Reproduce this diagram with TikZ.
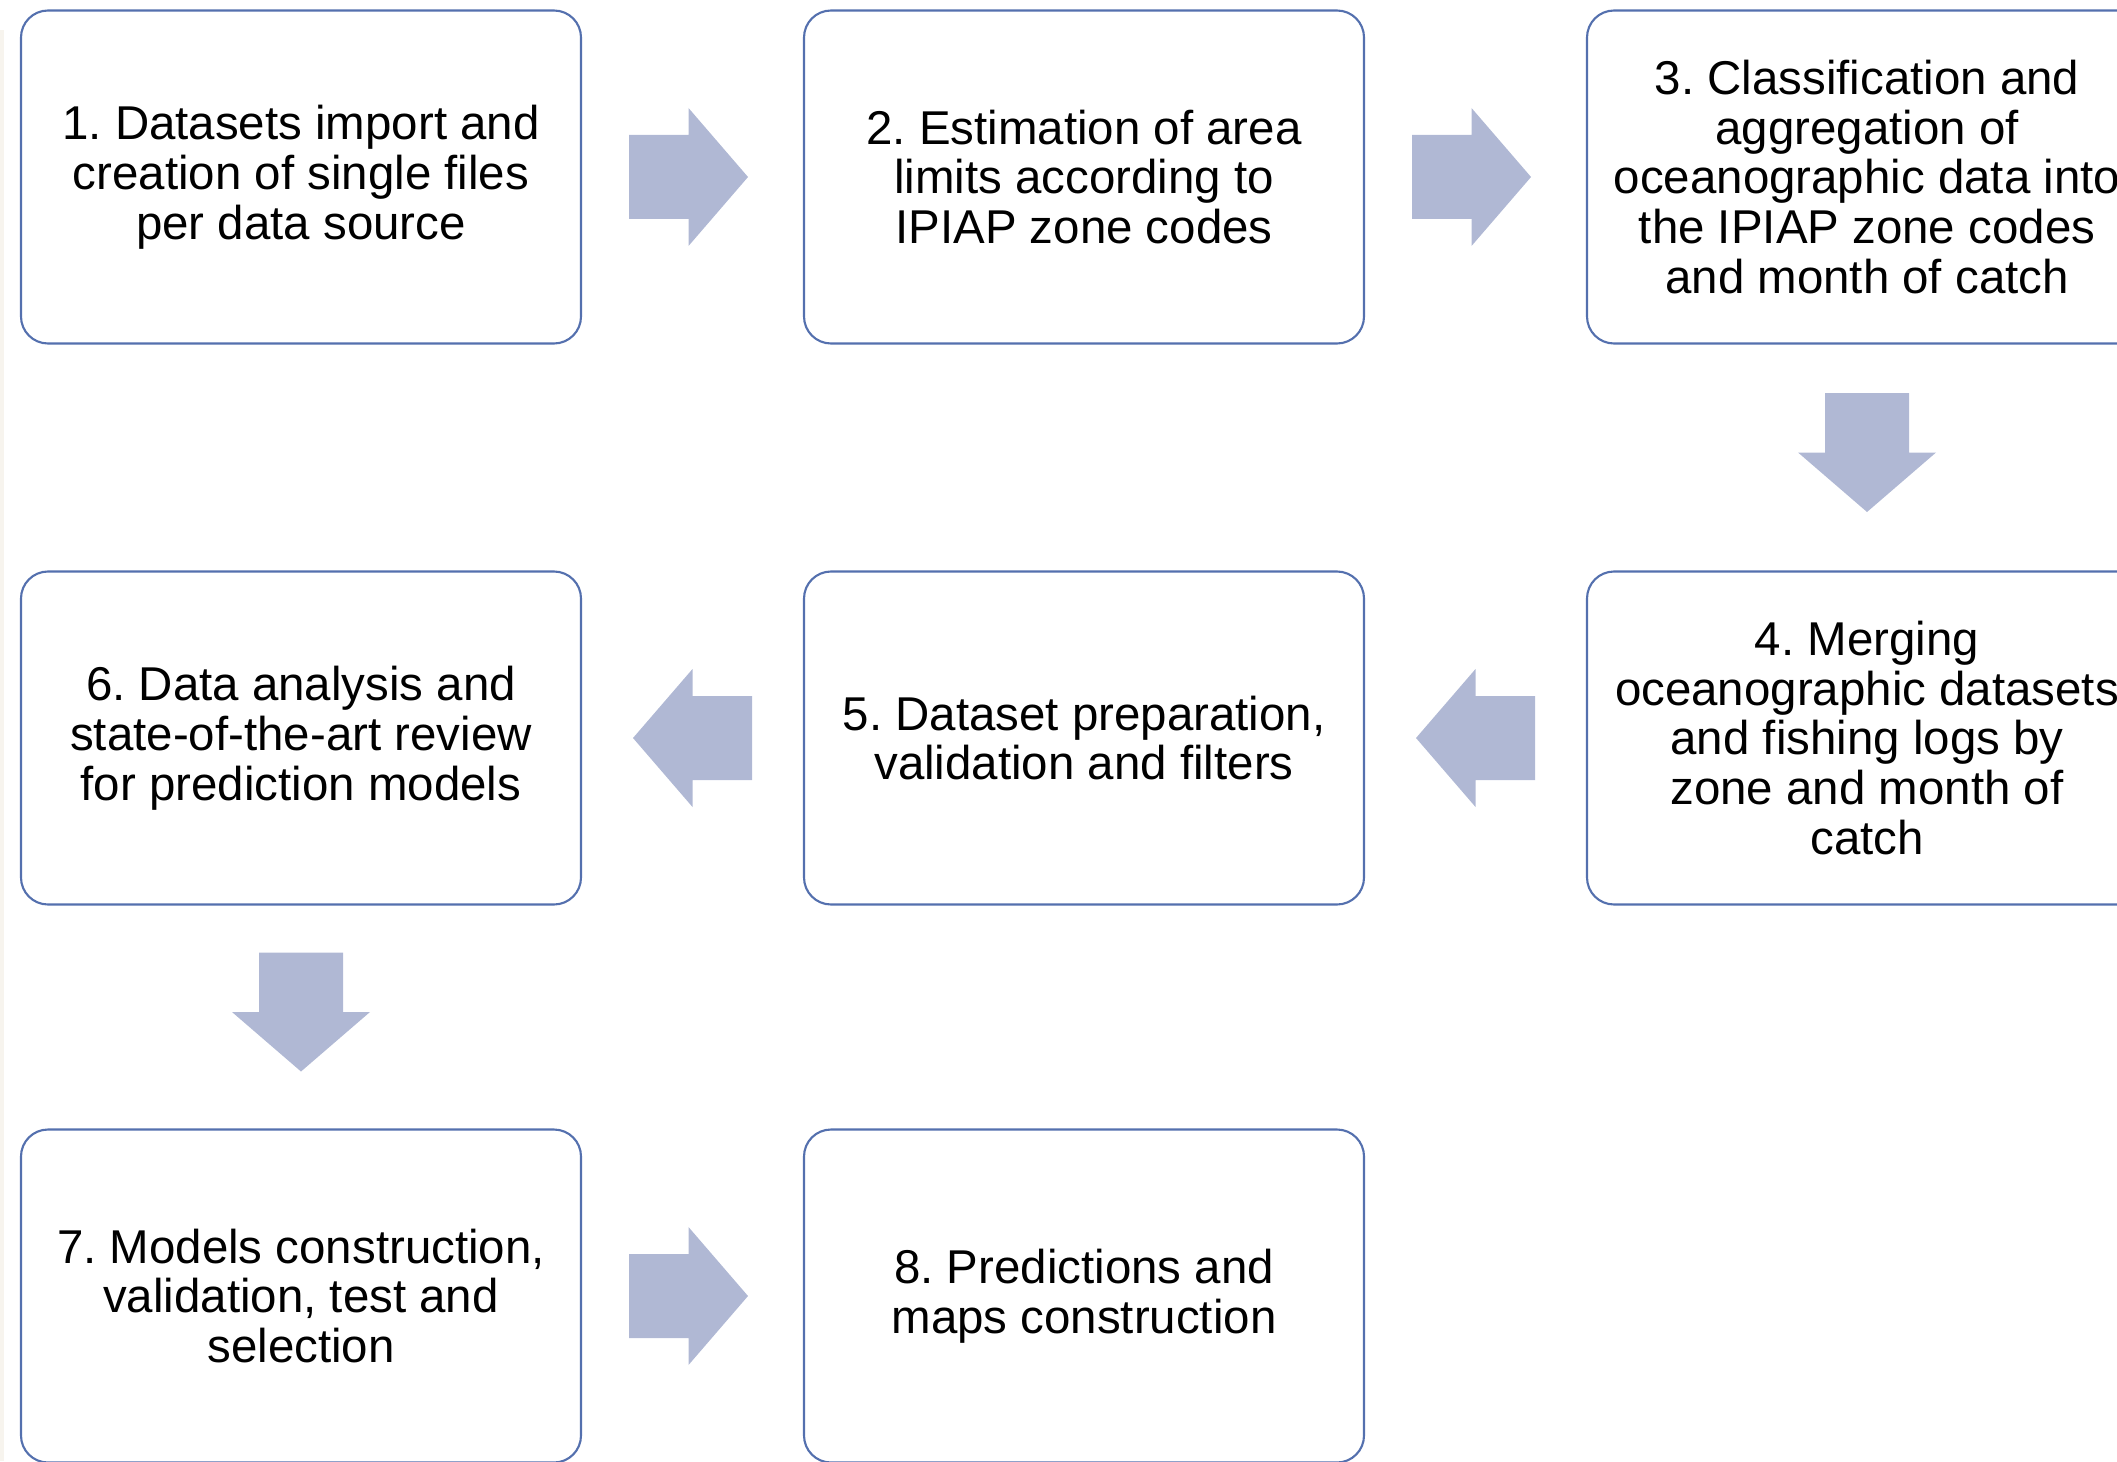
\documentclass[tikz,border=0pt]{standalone}
\usepackage{fontspec}
\setmainfont{Liberation Sans}
\usetikzlibrary{calc}
\definecolor{boxblue}{RGB}{84,112,174}
\definecolor{arrowfill}{RGB}{176,184,212}
\definecolor{stripcream}{RGB}{247,244,238}
\def\flowarrow(#1)(#2){\fill[arrowfill, shift={(#1)}, rotate=#2] (-0.595, 0.42) -- (0, 0.42) -- (0, 0.69) -- (0.595, 0) -- (0, -0.69) -- (0, -0.42) -- (-0.595, -0.42) -- cycle;}
\frenchspacing

\begin{document}
\begin{tikzpicture}[
		stepbox/.style={rectangle, rounded corners=0.27cm, draw=boxblue, line width=0.6pt, fill=white,
			minimum width=5.6cm, minimum height=3.33cm, inner sep=0pt, align=center,
			font=\fontsize{13.5}{14.2}\selectfont}
	]
		%%%%% START %%%%%
		\useasboundingbox (0, 0) rectangle (21.17, -14.61);
		\clip (0, 0) rectangle (21.17, -14.61);
		\fill[stripcream] (0, -0.3) rectangle (0.045, -14.61);
		
		% first row
		\node[stepbox] (b1) at (3.01, -1.77) {1. Datasets import and\\creation of single files\\per data source};
		\node[stepbox] (b2) at (10.84, -1.77) {2. Estimation of area\\limits according to\\IPIAP zone codes};
		\node[stepbox] (b3) at (18.67, -1.77) {3. Classification and\\aggregation of\\oceanographic data into\\the IPIAP zone codes\\and month of catch};
		
		% second row, read right to left
		\node[stepbox] (b4) at (18.67, -7.38) {4. Merging\\oceanographic datasets\\and fishing logs by\\zone and month of\\catch};
		\node[stepbox] (b5) at (10.84, -7.38) {5. Dataset preparation,\\validation and filters};
		\node[stepbox] (b6) at (3.01, -7.38) {6. Data analysis and\\state-of-the-art review\\for prediction models};
		
		% third row
		\node[stepbox] (b7) at (3.01, -12.96) {7. Models construction,\\validation, test and\\selection};
		\node[stepbox] (b8) at (10.84, -12.96) {8. Predictions and\\maps construction};
		
		% block arrows between the boxes (a touch towards the source box)
		\coordinate (a12) at ($(b1.east)!0.5!(b2.west) + (-0.04, 0)$);
		\coordinate (a23) at ($(b2.east)!0.5!(b3.west) + (-0.04, 0)$);
		\coordinate (a34) at ($(b3.south)!0.5!(b4.north) + (0, 0.05)$);
		\coordinate (a45) at ($(b4.west)!0.5!(b5.east)$);
		\coordinate (a56) at ($(b5.west)!0.5!(b6.east)$);
		\coordinate (a67) at ($(b6.south)!0.5!(b7.north) + (0, 0.05)$);
		\coordinate (a78) at ($(b7.east)!0.5!(b8.west) + (-0.04, 0)$);
		
		\flowarrow(a12)(0)
		\flowarrow(a23)(0)
		\flowarrow(a34)(-90)
		\flowarrow(a45)(180)
		\flowarrow(a56)(180)
		\flowarrow(a67)(-90)
		\flowarrow(a78)(0)
		%%%%% END %%%%%
	\end{tikzpicture}
\end{document}
